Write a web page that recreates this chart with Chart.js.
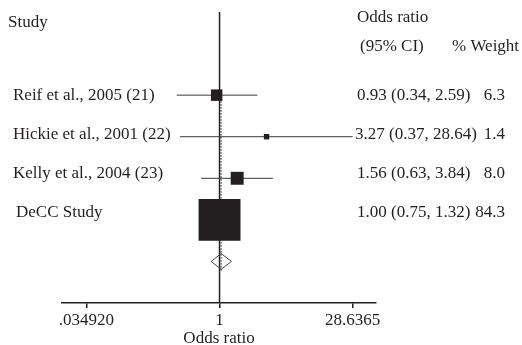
<!DOCTYPE html>
<html>
<head>
<meta charset="utf-8">
<script src="https://cdn.jsdelivr.net/npm/chart.js@4.4.1/dist/chart.umd.min.js"></script>
<style>
  html, body { margin: 0; padding: 0; background: #fff; }
  #wrap { width: 522px; height: 345px; }
</style>
</head>
<body>
<div id="wrap"><canvas id="forest" width="522" height="345"></canvas></div>
<script>
'use strict';

// ── 데이터 ────────────────────────────────────────────
const studies    = ['Reif et al., 2005 (21)', 'Hickie et al., 2001 (22)', 'Kelly et al., 2004 (23)', 'DeCC Study'];
const oddsRatio  = [0.93, 3.27, 1.56, 1.00];
const ciLow      = [0.34, 0.37, 0.63, 0.75];
const ciHigh     = [2.59, 28.64, 3.84, 1.32];
const weight     = [6.3, 1.4, 8.0, 84.3];
const ciText     = ['0.93 (0.34, 2.59)', '3.27 (0.37, 28.64)', '1.56 (0.63, 3.84)', '1.00 (0.75, 1.32)'];
const weightText = ['6.3', '1.4', '8.0', '84.3'];

// pooled estimate (diamond)
const pooledOR   = 1.04;
const pooledLow  = 0.81;
const pooledHigh = 1.35;

const xTicks      = [0.03492, 1, 28.6365];
const xTickLabels = ['.034920', '1', '28.6365'];

// ── 스타일 ────────────────────────────────────────────
const INK   = '#231f20';
const FONT  = '"Liberation Serif", "Times New Roman", serif';
const FSIZE = 17;
const POOLED_ROW = studies.length + 1;

const rowOf = i => i + 1;

// CI whiskers, one dataset per study
const ciSets = studies.map((s, i) => ({
  type: 'line',
  data: [{ x: ciLow[i], y: rowOf(i) }, { x: ciHigh[i], y: rowOf(i) }],
  borderColor: '#3a3a3a',
  borderWidth: 1,
  pointRadius: 0,
  order: 2,
}));

const datasets = [
  // weight boxes (area ~ weight)
  {
    type: 'scatter',
    data: studies.map((s, i) => ({ x: oddsRatio[i], y: rowOf(i) })),
    pointStyle: 'rect',
    pointRadius: weight.map(w => Math.sqrt(w) * 3.23),
    backgroundColor: INK,
    borderWidth: 0,
    order: 0,
  },
  // line of no effect
  {
    type: 'line',
    data: [{ x: 1, y: -1 }, { x: 1, y: 6 }],
    borderColor: INK,
    borderWidth: 1.5,
    pointRadius: 0,
    order: 3,
  },
  // pooled estimate, dotted
  {
    type: 'line',
    data: [{ x: pooledOR, y: 1 }, { x: pooledOR, y: POOLED_ROW + 0.25 }],
    borderColor: INK,
    borderWidth: 1,
    borderDash: [1.5, 1.5],
    pointRadius: 0,
    order: 1,
  },
  // diamond
  {
    type: 'line',
    data: [
      { x: pooledLow, y: POOLED_ROW },
      { x: pooledOR, y: POOLED_ROW - 0.19 },
      { x: pooledHigh, y: POOLED_ROW },
      { x: pooledOR, y: POOLED_ROW + 0.19 },
      { x: pooledLow, y: POOLED_ROW },
    ],
    borderColor: '#444',
    borderWidth: 1,
    pointRadius: 0,
    fill: false,
    order: 1,
  },
  ...ciSets,
];

// ── 텍스트 열 ─────────────────────────────────────────
const textColumns = {
  id: 'textColumns',
  afterDraw(chart) {
    const { ctx, scales: { y }, chartArea } = chart;
    ctx.save();
    ctx.fillStyle = INK;
    ctx.font = `${FSIZE}px ${FONT}`;
    ctx.textBaseline = 'middle';

    const top = chartArea.top;
    ctx.textAlign = 'left';
    ctx.fillText('Study', 8, top + 11);
    ctx.fillText('Odds ratio', 357, top + 6);
    ctx.fillText('(95% CI)', 360, top + 35);
    ctx.fillText('% Weight', 452, top + 35);

    studies.forEach((name, i) => {
      const py = y.getPixelForValue(rowOf(i)) - 2.4 * i;
      ctx.textAlign = 'left';
      ctx.fillText(name, i === 3 ? 16 : 13, py);
      ctx.fillText(ciText[i], i === 1 ? 355 : 357, py);
      ctx.textAlign = 'right';
      ctx.fillText(weightText[i], 505, py);
    });
    ctx.restore();
  }
};

new Chart(document.getElementById('forest'), {
  data: { datasets },
  options: {
    responsive: false,
    animation: false,
    devicePixelRatio: 1,
    layout: { autoPadding: false, padding: { left: 62, right: 146, top: 12, bottom: 0 } },
    plugins: { legend: { display: false }, tooltip: { enabled: false } },
    scales: {
      x: {
        type: 'logarithmic',
        position: 'bottom',
        min: 0.0189,
        max: 51.5,
        afterBuildTicks: s => { s.ticks = xTicks.map(v => ({ value: v })); },
        afterFit: s => { s.height = 42; },
        ticks: {
          autoSkip: false,
          maxRotation: 0,
          padding: 2,
          color: INK,
          font: { family: FONT, size: FSIZE },
          callback: (v, idx) => xTickLabels[idx],
        },
        grid: { display: true, drawOnChartArea: false, drawTicks: true, tickLength: 5, color: INK, lineWidth: 1.5 },
        border: { display: true, color: INK, width: 1.5 },
        title: {
          display: true,
          text: 'Odds ratio',
          color: INK,
          font: { family: FONT, size: FSIZE, lineHeight: 0.8 },
          padding: { top: 0, bottom: 0 },
        },
      },
      y: { type: 'linear', min: -1, max: 6, reverse: true, display: false },
    },
  },
  plugins: [textColumns],
});
</script>
</body>
</html>
